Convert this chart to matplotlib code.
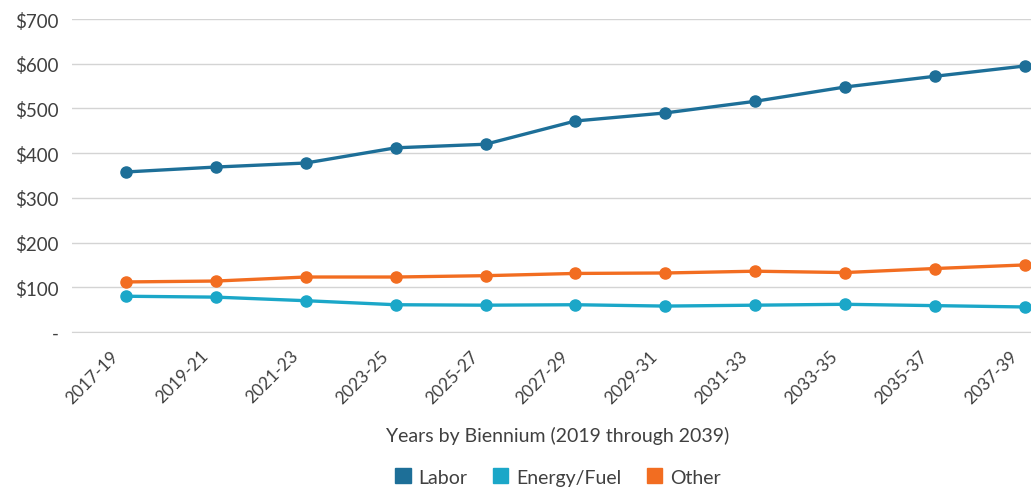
import numpy as np
import matplotlib
matplotlib.use('Agg')
import matplotlib.pyplot as plt
from matplotlib.patches import Patch
from matplotlib.transforms import ScaledTranslation

plt.rcParams['font.family'] = ['Lato', 'DejaVu Sans']

bienniums = ['2017-19', '2019-21', '2021-23', '2023-25', '2025-27', '2027-29',
             '2029-31', '2031-33', '2033-35', '2035-37', '2037-39']
labor = [358, 369, 378, 412, 420, 472, 490, 516, 548, 572, 595]
energy_fuel = [80, 78, 70, 61, 60, 61, 58, 60, 62, 59, 56]
other = [112, 114, 123, 123, 126, 131, 132, 136, 133, 142, 150]

y_ticks = [0, 100, 200, 300, 400, 500, 600, 700]
y_tick_labels = ['-', '$100', '$200', '$300', '$400', '$500', '$600', '$700']

labor_color = '#1d6f98'
energy_color = '#1ba7c8'
other_color = '#f26d21'
text_color = '#404040'

fig = plt.figure(figsize=[10.31, 4.89], dpi=100)
ax = fig.add_axes([0.070, 0.319, 0.930, 0.640])

x = np.arange(len(bienniums))
ax.plot(x, labor, 'o-', color=labor_color, lw=2.4, ms=8)
ax.plot(x, energy_fuel, 'o-', color=energy_color, lw=2.4, ms=8)
ax.plot(x, other, 'o-', color=other_color, lw=2.4, ms=8)

ax.set_xlim(-0.6, 10.07)
ax.set_ylim(0, 700)
ax.set_yticks(y_ticks)
ax.set_yticklabels(y_tick_labels)
ax.set_xticks(x)
ax.set_xticklabels(bienniums, rotation=45, ha='right', va='center',
                   rotation_mode='anchor')
ax.tick_params(axis='y', length=0, labelsize=13.5, colors=text_color, pad=10)
ax.tick_params(axis='x', length=0, labelsize=12.5, colors=text_color, pad=15)
# nudge the slanted labels left so their ends sit under the points
shift = ScaledTranslation(-0.10, 0, fig.dpi_scale_trans)
for lbl in ax.get_xticklabels():
    lbl.set_transform(lbl.get_transform() + shift)
ax.grid(axis='y', color='#d4d4d4', lw=1)
ax.set_axisbelow(True)
for side in ['top', 'right', 'left']:
    ax.spines[side].set_visible(False)
ax.spines['bottom'].set_color('#d4d4d4')

fig.text(0.541, 1 - 436 / 489, 'Years by Biennium (2019 through 2039)',
         ha='center', va='center', fontsize=14, color=text_color)

handles = [Patch(color=labor_color, label='Labor'),
           Patch(color=energy_color, label='Energy/Fuel'),
           Patch(color=other_color, label='Other')]
fig.legend(handles=handles, loc='center', bbox_to_anchor=(0.541, 1 - 478 / 489),
           ncol=3, frameon=False, fontsize=14, handlelength=0.8, handleheight=0.8,
           handletextpad=0.4, columnspacing=1.3, labelcolor=text_color)

fig.savefig('out.png', dpi=100)
